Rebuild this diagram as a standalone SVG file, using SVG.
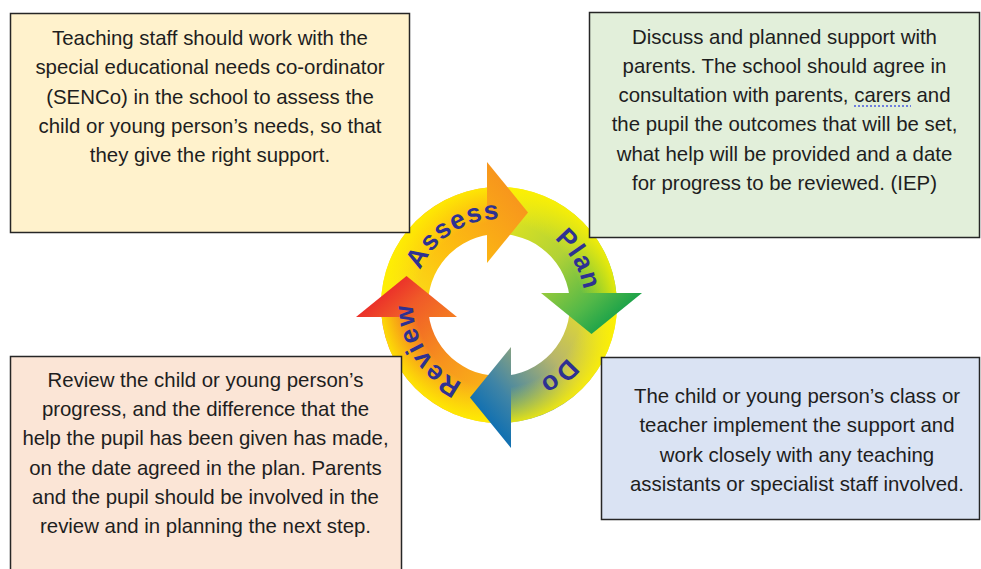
<svg xmlns="http://www.w3.org/2000/svg" xmlns:xlink="http://www.w3.org/1999/xlink" width="981" height="569" viewBox="0 0 981 569">
<style>
.box{stroke:#262626;stroke-width:1.5}
.bt{font-family:"Liberation Sans",Arial,sans-serif;font-size:20.4px;fill:#1e1e1e;text-anchor:middle}
.lbl{font-family:"Liberation Sans",Arial,sans-serif;font-size:26.5px;font-weight:bold;fill:#2e3192;letter-spacing:1.2px;text-anchor:middle}
</style>
<defs>
<linearGradient id="gA" gradientUnits="userSpaceOnUse" x1="400" y1="320" x2="530" y2="205">
<stop offset="0" stop-color="#f8e71c"/><stop offset="0.45" stop-color="#fdc010"/><stop offset="1" stop-color="#f7941d"/>
</linearGradient>
<linearGradient id="gP" gradientUnits="userSpaceOnUse" x1="400" y1="320" x2="530" y2="205">
<stop offset="0" stop-color="#f1ea16"/><stop offset="0.5" stop-color="#b2d236"/><stop offset="0.82" stop-color="#52b848"/><stop offset="1" stop-color="#16a04a"/>
</linearGradient>
<linearGradient id="gD" gradientUnits="userSpaceOnUse" x1="400" y1="320" x2="530" y2="205">
<stop offset="0" stop-color="#f5ec14"/><stop offset="0.45" stop-color="#b8b66a"/><stop offset="0.8" stop-color="#3f84a6"/><stop offset="1" stop-color="#0a6db3"/>
</linearGradient>
<linearGradient id="gR" gradientUnits="userSpaceOnUse" x1="400" y1="320" x2="530" y2="205">
<stop offset="0" stop-color="#fbc315"/><stop offset="0.45" stop-color="#f7941d"/><stop offset="0.82" stop-color="#f05a28"/><stop offset="1" stop-color="#ea2a2a"/>
</linearGradient>
<radialGradient id="gRim" gradientUnits="userSpaceOnUse" cx="499" cy="305" r="118">
<stop offset="0.7" stop-color="#fff200" stop-opacity="0"/><stop offset="1" stop-color="#fff200" stop-opacity="0.85"/>
</radialGradient>
<path id="body" d="M381.6,317 A118,118 0 0 1 490,187.34 L490,234.57 A71,71 0 0 0 429,317 Z"/>
<path id="head" d="M487,162 L528,212.5 L487,263 Z"/>
<path id="lp" d="M499,391 A86,86 0 1 1 499,219 A86,86 0 1 1 499,391"/>
</defs>

<g id="cycle">
<g id="cycle-bodies">
<use xlink:href="#body" fill="url(#gA)"/>
<use xlink:href="#body" fill="url(#gP)" transform="rotate(90 499 305)"/>
<use xlink:href="#body" fill="url(#gD)" transform="rotate(180 499 305)"/>
<use xlink:href="#body" fill="url(#gR)" transform="rotate(270 499 305)"/>
</g>
<path id="cycle-rim" fill="url(#gRim)" fill-rule="evenodd" d="M381,305 A118,118 0 1 1 617,305 A118,118 0 1 1 381,305 Z M428,305 A71,71 0 1 0 570,305 A71,71 0 1 0 428,305 Z"/>
<g id="cycle-heads">
<use xlink:href="#head" fill="url(#gA)"/>
<use xlink:href="#head" fill="url(#gP)" transform="rotate(90 499 305)"/>
<use xlink:href="#head" fill="url(#gD)" transform="rotate(180 499 305)"/>
<use xlink:href="#head" fill="url(#gR)" transform="rotate(270 499 305)"/>
</g>
<g id="cycle-labels">
<text class="lbl"><textPath xlink:href="#lp" startOffset="40.9%">Assess</textPath></text>
<text class="lbl"><textPath xlink:href="#lp" startOffset="66.7%">Plan</textPath></text>
<text class="lbl"><textPath xlink:href="#lp" startOffset="88.9%">Do</textPath></text>
<text class="lbl"><textPath xlink:href="#lp" startOffset="16.1%">Review</textPath></text>
</g>
</g>

<g id="box-assess">
<rect class="box" x="10.5" y="13.5" width="399" height="219" fill="#fff2cc"/>
<text class="bt" x="210" y="45">Teaching staff should work with the</text>
<text class="bt" x="210" y="74.3">special educational needs co-ordinator</text>
<text class="bt" x="210" y="103.6">(SENCo) in the school to assess the</text>
<text class="bt" x="210" y="132.9">child or young person’s needs, so that</text>
<text class="bt" x="210" y="162.2">they give the right support.</text>
</g>

<g id="box-plan">
<rect class="box" x="589.5" y="12.5" width="390" height="225" fill="#e2efda"/>
<text class="bt" x="784.5" y="43.5">Discuss and planned support with</text>
<text class="bt" x="784.5" y="72.8">parents. The school should agree in</text>
<text class="bt" x="784.5" y="102.1">consultation with parents, carers and</text>
<text class="bt" x="784.5" y="131.4">the pupil the outcomes that will be set,</text>
<text class="bt" x="784.5" y="160.7">what help will be provided and a date</text>
<text class="bt" x="784.5" y="190">for progress to be reviewed. (IEP)</text>
<line x1="854" y1="106" x2="911" y2="106" stroke="#4a5be0" stroke-width="1.5" stroke-dasharray="2 2"/>
</g>

<g id="box-review">
<rect class="box" x="10.5" y="356.5" width="391" height="222" fill="#fbe5d6"/>
<text class="bt" x="205.5" y="386.7">Review the child or young person’s</text>
<text class="bt" x="205.5" y="416">progress, and the difference that the</text>
<text class="bt" x="205.5" y="445.3">help the pupil has been given has made,</text>
<text class="bt" x="205.5" y="474.6">on the date agreed in the plan. Parents</text>
<text class="bt" x="205.5" y="503.9">and the pupil should be involved in the</text>
<text class="bt" x="205.5" y="533.2">review and in planning the next step.</text>
</g>

<g id="box-do">
<rect class="box" x="601.5" y="357.5" width="378" height="162" fill="#dae3f3"/>
<text class="bt" x="797" y="403">The child or young person’s class or</text>
<text class="bt" x="797" y="432.3">teacher implement the support and</text>
<text class="bt" x="797" y="461.6">work closely with any teaching</text>
<text class="bt" x="797" y="490.9">assistants or specialist staff involved.</text>
</g>
</svg>
